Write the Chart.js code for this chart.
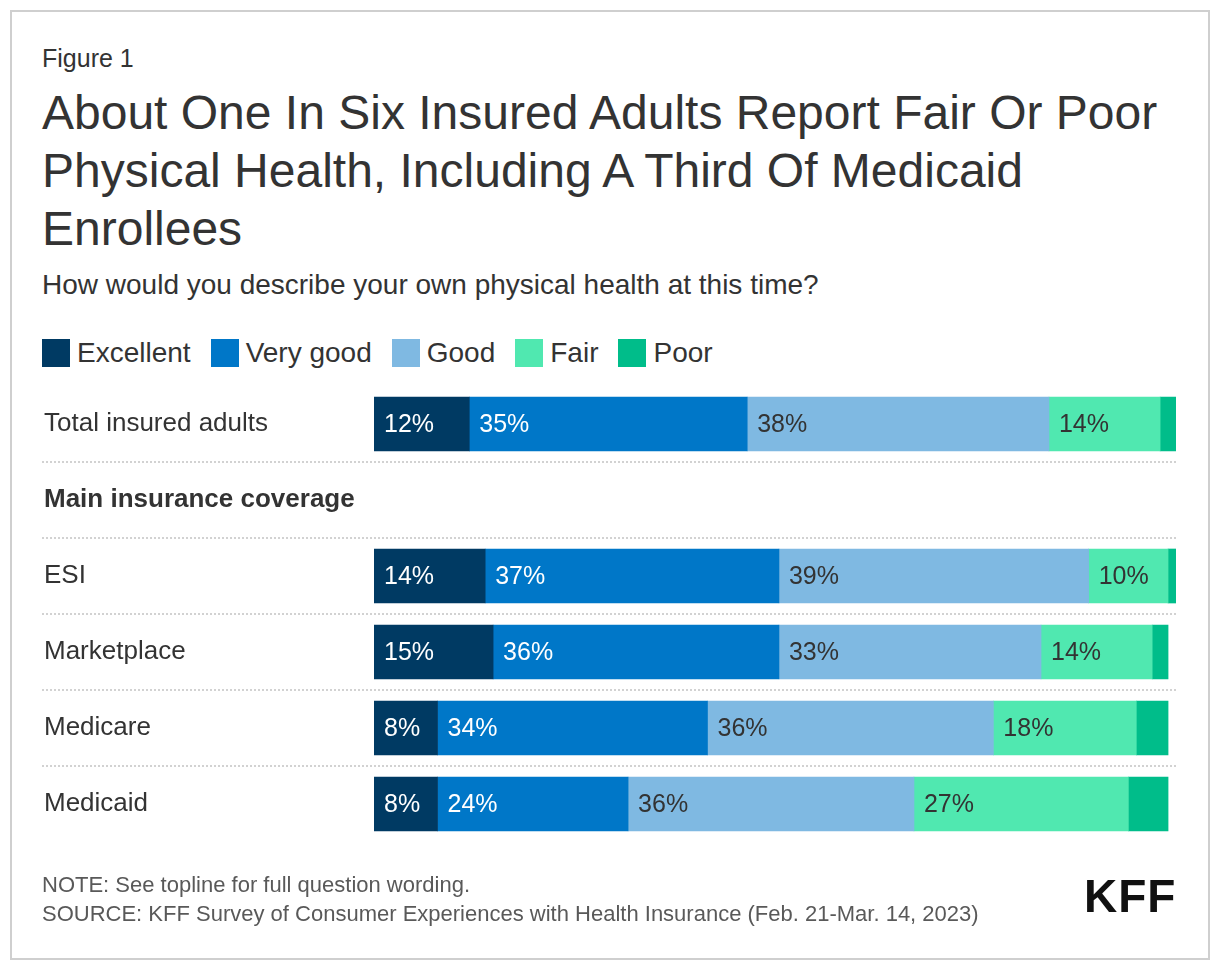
<!DOCTYPE html>
<html>
<head>
<meta charset="utf-8">
<script src="https://cdn.jsdelivr.net/npm/chart.js@4.4.1/dist/chart.umd.min.js"></script>
<style>
  html, body { margin: 0; padding: 0; background: #fff; }
  body { width: 1220px; height: 972px; position: relative; overflow: hidden;
         font-family: "Liberation Sans", Arial, Helvetica, sans-serif; color: #333; }
  .card { position: absolute; left: 10px; top: 10px; width: 1196px; height: 946px;
          border: 2px solid #cfcfcf; }
  .abs { position: absolute; white-space: nowrap; }
  #fig { left: 42px; top: 43px; font-size: 25px; line-height: 30px; color: #333; }
  #title { left: 42px; top: 84px; font-size: 48px; line-height: 58px; color: #333; }
  #sub { left: 42px; top: 269px; font-size: 28px; line-height: 32px; color: #333; }
  #legend { left: 42px; top: 337px; height: 32px; display: flex; align-items: center; }
  .li { display: flex; align-items: center; margin-right: 20px; font-size: 28px; line-height: 32px; color: #333; }
  .sw { width: 28px; height: 28px; margin-right: 7px; }
  #note { left: 42px; top: 872px; font-size: 22px; line-height: 26px; color: #595959; }
  #source { left: 42px; top: 901px; font-size: 22px; line-height: 26px; color: #595959; }
  #logo { left: 1084px; top: 868px; font-size: 46px; line-height: 56px; font-weight: bold; color: #111; letter-spacing: 1px; }
  canvas { position: absolute; left: 0; top: 0; }
</style>
</head>
<body>
<div class="card"></div>
<div class="abs" id="fig">Figure 1</div>
<div class="abs" id="title">About One In Six Insured Adults Report Fair Or Poor<br>Physical Health, Including A Third Of Medicaid<br>Enrollees</div>
<div class="abs" id="sub">How would you describe your own physical health at this time?</div>
<div class="abs" id="legend"></div>
<canvas id="c" width="1220" height="972"></canvas>
<div class="abs" id="note">NOTE: See topline for full question wording.</div>
<div class="abs" id="source">SOURCE: KFF Survey of Consumer Experiences with Health Insurance (Feb. 21-Mar. 14, 2023)</div>
<div class="abs" id="logo">KFF</div>
<script>
const categories = ["Total insured adults", "Main insurance coverage", "ESI", "Marketplace", "Medicare", "Medicaid"];
const seriesNames = ["Excellent", "Very good", "Good", "Fair", "Poor"];
const seriesColors = ["#003A63", "#0077C8", "#7FB9E2", "#50E8B0", "#00BD8A"];
const labelColors = ["#ffffff", "#ffffff", "#333333", "#333333", null];
const excellent = [12, null, 14, 15, 8, 8];
const veryGood  = [35, null, 37, 36, 34, 24];
const good      = [38, null, 39, 33, 36, 36];
const fair      = [14, null, 10, 14, 18, 27];
const poor      = [2,  null, 1,  2,  4,  5];
const seriesValues = [excellent, veryGood, good, fair, poor];
const headerIndex = 1;
const axisMax = 101;

// HTML legend built from the series arrays
const lg = document.getElementById('legend');
seriesNames.forEach((n, i) => {
  const d = document.createElement('div'); d.className = 'li';
  const s = document.createElement('div'); s.className = 'sw'; s.style.background = seriesColors[i];
  d.appendChild(s); d.appendChild(document.createTextNode(n)); lg.appendChild(d);
});

const separators = {
  id: 'separators',
  beforeDatasetsDraw(chart) {
    const y = chart.scales.y, ctx = chart.ctx, area = chart.chartArea;
    ctx.save();
    ctx.strokeStyle = '#d2d2d2'; ctx.lineWidth = 2; ctx.setLineDash([2, 2]);
    for (let i = 0; i < categories.length - 1; i++) {
      const py = Math.round((y.getPixelForValue(i) + y.getPixelForValue(i + 1)) / 2);
      ctx.beginPath(); ctx.moveTo(42, py); ctx.lineTo(area.right, py); ctx.stroke();
    }
    ctx.restore();
  }
};

const barLabels = {
  id: 'barLabels',
  afterDatasetsDraw(chart) {
    const ctx = chart.ctx;
    ctx.save();
    ctx.font = '25px "Liberation Sans", Arial, sans-serif';
    ctx.textAlign = 'left'; ctx.textBaseline = 'middle';
    chart.data.datasets.forEach((ds, di) => {
      if (!labelColors[di]) return;
      const meta = chart.getDatasetMeta(di);
      meta.data.forEach((el, i) => {
        const v = ds.data[i];
        if (v == null) return;
        const left = Math.min(el.base, el.x);
        ctx.fillStyle = labelColors[di];
        ctx.fillText(v + '%', left + 10, el.y + 1);
      });
    });
    ctx.restore();
  }
};

new Chart(document.getElementById('c'), {
  type: 'bar',
  data: {
    labels: categories,
    datasets: seriesNames.map((n, i) => ({
      label: n, data: seriesValues[i], backgroundColor: seriesColors[i],
      borderWidth: 0, barThickness: 54
    }))
  },
  options: {
    indexAxis: 'y', responsive: false, animation: false, devicePixelRatio: 1,
    layout: { padding: { top: 386, bottom: 130, left: 44, right: 44 } },
    plugins: { legend: { display: false }, tooltip: { enabled: false } },
    scales: {
      x: { stacked: true, min: 0, max: axisMax, display: false },
      y: {
        stacked: true,
        grid: { display: false }, border: { display: false },
        afterFit(scale) { scale.width = 330; },
        ticks: {
          crossAlign: 'far', padding: 0, autoSkip: false, color: '#333',
          font: (ctx) => ctx.index === headerIndex
            ? { family: '"Liberation Sans", Arial, sans-serif', size: 26, weight: 'bold' }
            : { family: '"Liberation Sans", Arial, sans-serif', size: 26, weight: 'normal' }
        }
      }
    }
  },
  plugins: [separators, barLabels]
});
</script>
</body>
</html>
